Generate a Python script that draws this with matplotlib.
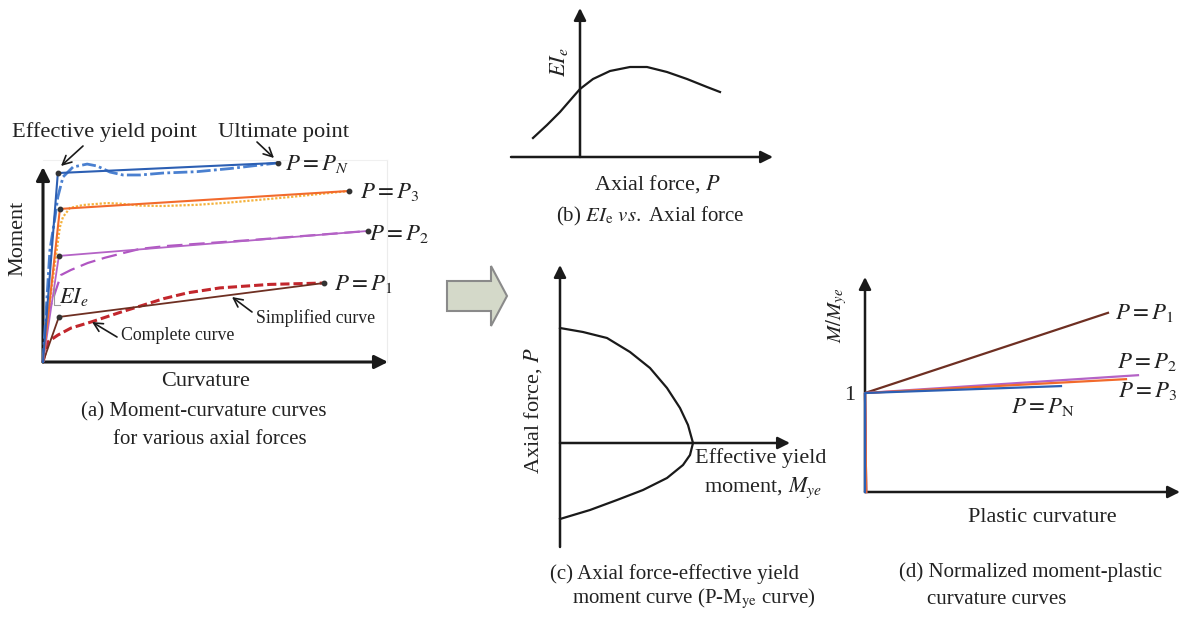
import matplotlib
matplotlib.use("Agg")
import matplotlib.pyplot as plt
from matplotlib.patches import Polygon

W, H = 1184, 617
plt.rcParams["font.family"] = ["Liberation Serif", "DejaVu Serif"]
plt.rcParams["mathtext.fontset"] = "stix"

# ---------------- (a) moment-curvature curves (arbitrary units) ----------------
simp_curv_N = [0, 0.43, 6.81]
simp_mom_N = [0, 9.69, 10.21]
simp_curv_3 = [0, 0.49, 8.87]
simp_mom_3 = [0, 7.85, 8.77]
simp_curv_2 = [0, 0.46, 9.42]
simp_mom_2 = [0, 5.44, 6.72]
simp_curv_1 = [0, 0.46, 8.14]
simp_mom_1 = [0, 2.31, 4.05]

full_curv_N = [0, 0.20, 0.35, 0.43, 0.58, 0.87, 1.28, 1.57, 1.94, 2.32, 2.81, 3.48, 4.46, 5.42, 6.81]
full_mom_N = [0, 5.74, 7.44, 8.46, 9.49, 10.0, 10.15, 10.05, 9.74, 9.59, 9.59, 9.69, 9.76, 9.92, 10.21]
full_curv_3 = [0, 0.25, 0.49, 0.58, 0.78, 1.16, 1.86, 2.23, 2.81, 3.48, 4.46, 5.42, 7.16, 8.87]
full_mom_3 = [0, 3.8, 6.92, 7.44, 7.90, 8.05, 8.15, 8.12, 8.02, 8.0, 8.06, 8.18, 8.46, 8.77]
full_curv_2 = [0, 0.15, 0.52, 0.81, 1.30, 1.80, 2.40, 2.81, 3.59, 6.0, 9.42]
full_mom_2 = [0, 2.5, 4.46, 4.72, 5.08, 5.35, 5.62, 5.80, 5.95, 6.25, 6.72]
full_curv_1 = [0, 0.14, 0.43, 0.81, 1.39, 2.26, 2.84, 3.50, 4.20, 5.13, 6.58, 8.14]
full_mom_1 = [0, 1.03, 1.38, 1.74, 2.05, 2.56, 2.88, 3.25, 3.55, 3.80, 3.98, 4.05]

# ---------------- (b) effective stiffness vs axial force ----------------
axial_b = [-0.47, -0.33, -0.20, -0.07, 0.0, 0.13, 0.30, 0.50, 0.67, 0.87, 1.07, 1.27, 1.40]
stiff_b = [0.19, 0.32, 0.45, 0.60, 0.68, 0.78, 0.86, 0.90, 0.90, 0.85, 0.78, 0.70, 0.65]

# ---------------- (c) P-Mye interaction curve ----------------
myield_c = [0, 0.23, 0.47, 0.70, 0.90, 1.07, 1.20, 1.28, 1.33,
            1.30, 1.23, 1.07, 0.83, 0.57, 0.30, 0]
axial_c = [1.15, 1.11, 1.05, 0.91, 0.75, 0.55, 0.35, 0.18, 0,
           -0.12, -0.22, -0.35, -0.47, -0.57, -0.67, -0.76]

# ---------------- (d) normalized moment vs plastic curvature ----------------
plastic_end = {"P1": 2.43, "P2": 2.73, "P3": 2.61, "PN": 1.96}
ratio_end = {"P1": 1.81, "P2": 1.18, "P3": 1.14, "PN": 1.07}

C_BLUE, C_BLUE2 = "#2c5fb3", "#4a80d0"
C_ORANGE, C_YELLOW = "#f26a2c", "#f4b23c"
C_PURPLE, C_PURPLE2 = "#b463c6", "#b055c2"
C_BROWN, C_RED = "#6e2f22", "#c2262c"

fig = plt.figure(figsize=(W / 100, H / 100), dpi=100)


def panel(px0, px1, py_top, py_bot, xlim, ylim):
    ax = fig.add_axes([px0 / W, 1 - py_bot / H, (px1 - px0) / W, (py_bot - py_top) / H])
    ax.set_xlim(*xlim)
    ax.set_ylim(*ylim)
    ax.axis("off")
    return ax


def axis_arrow(ax, start, end, lw=1.8, ms=18):
    ax.annotate("", xy=end, xytext=start, annotation_clip=False,
                arrowprops=dict(arrowstyle="-|>", color="#1a1a1a", lw=lw,
                                mutation_scale=ms, shrinkA=0, shrinkB=0))


# ---- panel (a)
axa = panel(43, 388, 167, 362, (0, 10), (0, 10))
axis_arrow(axa, (0, 0), (10, 0), lw=2.2, ms=20)
axis_arrow(axa, (0, 0), (0, 10), lw=2.2, ms=20)
kw = dict(clip_on=False, zorder=3, solid_joinstyle="round", dash_joinstyle="round")
axa.plot(full_curv_1, full_mom_1, color=C_RED, lw=2.2, ls=(0, (3, 1.3)), **kw)
axa.plot(full_curv_2, full_mom_2, color=C_PURPLE2, lw=1.6, ls=(0, (7, 3)), **kw)
axa.plot(full_curv_3, full_mom_3, color=C_YELLOW, lw=1.6, ls=(0, (1, 0.8)), **kw)
axa.plot(full_curv_N, full_mom_N, color=C_BLUE2, lw=2.0, ls=(0, (5, 1.2, 1, 1.2)), **kw)
dot = dict(marker="o", ms=3.2, mfc="#333333", mec="#333333", markevery=[1, 2])
axa.plot(simp_curv_1, simp_mom_1, color=C_BROWN, lw=1.3, **dot, **kw)
axa.plot(simp_curv_2, simp_mom_2, color=C_PURPLE, lw=1.3, **dot, **kw)
axa.plot(simp_curv_3, simp_mom_3, color=C_ORANGE, lw=1.5, **dot, **kw)
axa.plot(simp_curv_N, simp_mom_N, color=C_BLUE, lw=1.5, **dot, **kw)

# ---- panel (b)
axb = panel(511, 773, 8, 157, (-0.69, 1.93), (0, 1.49))
axis_arrow(axb, (-0.69, 0), (1.93, 0))
axis_arrow(axb, (0, 0), (0, 1.49))
axb.plot(axial_b, stiff_b, color="#1a1a1a", lw=1.6, clip_on=False, solid_joinstyle="round")

# ---- panel (c)
axc = panel(560, 790, 265, 547, (0, 2.30), (-1.04, 1.78))
axis_arrow(axc, (0, 0), (2.30, 0))
axis_arrow(axc, (0, -1.04), (0, 1.78))
axc.plot(myield_c, axial_c, color="#1a1a1a", lw=1.6, clip_on=False, solid_joinstyle="round")

# ---- panel (d)
axd = panel(865, 1180, 277, 492, (0, 3.15), (0, 2.172))
axis_arrow(axd, (0, 0), (3.15, 0))
axis_arrow(axd, (0, 0), (0, 2.172))
for key, col in [("P1", C_BROWN), ("P2", C_PURPLE), ("P3", C_ORANGE), ("PN", C_BLUE)]:
    axd.plot([0.012 if key != "PN" else 0.0, 0.0, plastic_end[key]],
             [0, 1, ratio_end[key]], color=col, lw=1.6, clip_on=False, zorder=4)

# ---- overlay in pixel coordinates for annotations, texts and the block arrow
ov = fig.add_axes([0, 0, 1, 1])
ov.set_xlim(0, W)
ov.set_ylim(H, 0)
ov.axis("off")

ov.add_patch(Polygon([(447, 281), (491, 281), (491, 266), (507, 296),
                      (491, 326), (491, 311), (447, 311)],
                     closed=True, fc="#d4d9c9", ec="#8a8a8a", lw=1.5))

ov.plot([387, 387], [160, 362], color="#ececec", lw=0.8, zorder=0)
ov.plot([43, 387], [160, 160], color="#f0f0f0", lw=0.8, zorder=0)
ov.plot([54, 54, 60], [287, 305, 305], color="#9a9a9a", lw=0.8)

pt = dict(arrowstyle="->", color="#1a1a1a", lw=1.2, mutation_scale=16,
          shrinkA=0, shrinkB=0)
ov.annotate("", xy=(61, 166), xytext=(83, 146), arrowprops=pt)
ov.annotate("", xy=(274, 158), xytext=(257, 142), arrowprops=pt)
ov.annotate("", xy=(232, 297), xytext=(252, 312), arrowprops=pt)
ov.annotate("", xy=(92, 322), xytext=(117, 337), arrowprops=pt)

tc = "#222222"
ov.text(12, 137, "Effective yield point", fontsize=16.2, color=tc, ha="left", va="baseline")
ov.text(218, 137, "Ultimate point", fontsize=16.2, color=tc, ha="left", va="baseline")
ov.text(285, 164, r"$P=P_N$", fontsize=16.5, color=tc, ha="left", va="center")
ov.text(360, 192, r"$P=P_3$", fontsize=16.5, color=tc, ha="left", va="center")
ov.text(369, 234, r"$P=P_2$", fontsize=16.5, color=tc, ha="left", va="center")
ov.text(334, 284, r"$P=P_1$", fontsize=16.5, color=tc, ha="left", va="center")
ov.text(59, 297, r"$EI_e$", fontsize=16, color=tc, ha="left", va="center")
ov.text(256, 318, "Simplified curve", fontsize=12.8, color=tc, ha="left", va="center")
ov.text(121, 336, "Complete curve", fontsize=12.8, color=tc, ha="left", va="center")
ov.text(18, 238, "Moment", fontsize=16, color=tc, rotation=90, ha="center", va="center")
ov.text(206, 382, "Curvature", fontsize=16, color=tc, ha="center", va="center")
ov.text(204, 412, "(a) Moment-curvature curves", fontsize=15, color=tc, ha="center", va="center")
ov.text(210, 439, "for various axial forces", fontsize=15, color=tc, ha="center", va="center")

ov.text(559, 62, r"$EI_e$", fontsize=16, color=tc, rotation=90, ha="center", va="center")
ov.text(658, 184, r"Axial force, $P$", fontsize=16, color=tc, ha="center", va="center")
ov.text(650, 216, r"(b) $EI_{\rm e}$ $vs.$ Axial force", fontsize=15, color=tc, ha="center", va="center")

ov.text(533, 410, r"Axial force, $P$", fontsize=16, color=tc, rotation=90, ha="center", va="center")
ov.text(695, 458, "Effective yield", fontsize=16, color=tc, ha="left", va="center")
ov.text(763, 488, r"moment, $M_{ye}$", fontsize=16, color=tc, ha="center", va="center")
ov.text(674, 574, "(c) Axial force-effective yield", fontsize=15, color=tc, ha="center", va="center")
ov.text(694, 599, r"moment curve (P-M$_{\rm ye}$ curve)", fontsize=15, color=tc, ha="center", va="center")

ov.text(837, 315, r"$M/M_{ye}$", fontsize=15, color=tc, rotation=90, ha="center", va="center")
ov.text(850, 395, "1", fontsize=16, color=tc, ha="center", va="center")
ov.text(1115, 313, r"$P=P_1$", fontsize=16.5, color=tc, ha="left", va="center")
ov.text(1117, 362, r"$P=P_2$", fontsize=16.5, color=tc, ha="left", va="center")
ov.text(1118, 391, r"$P=P_3$", fontsize=16.5, color=tc, ha="left", va="center")
ov.text(1011, 407, r"$P=P_{\rm N}$", fontsize=16.5, color=tc, ha="left", va="center")
ov.text(1042, 517, "Plastic curvature", fontsize=16, color=tc, ha="center", va="center")
ov.text(1031, 572, "(d) Normalized moment-plastic", fontsize=15, color=tc, ha="center", va="center")
ov.text(997, 599, "curvature curves", fontsize=15, color=tc, ha="center", va="center")

fig.savefig("out.png", dpi=100, facecolor="white")
